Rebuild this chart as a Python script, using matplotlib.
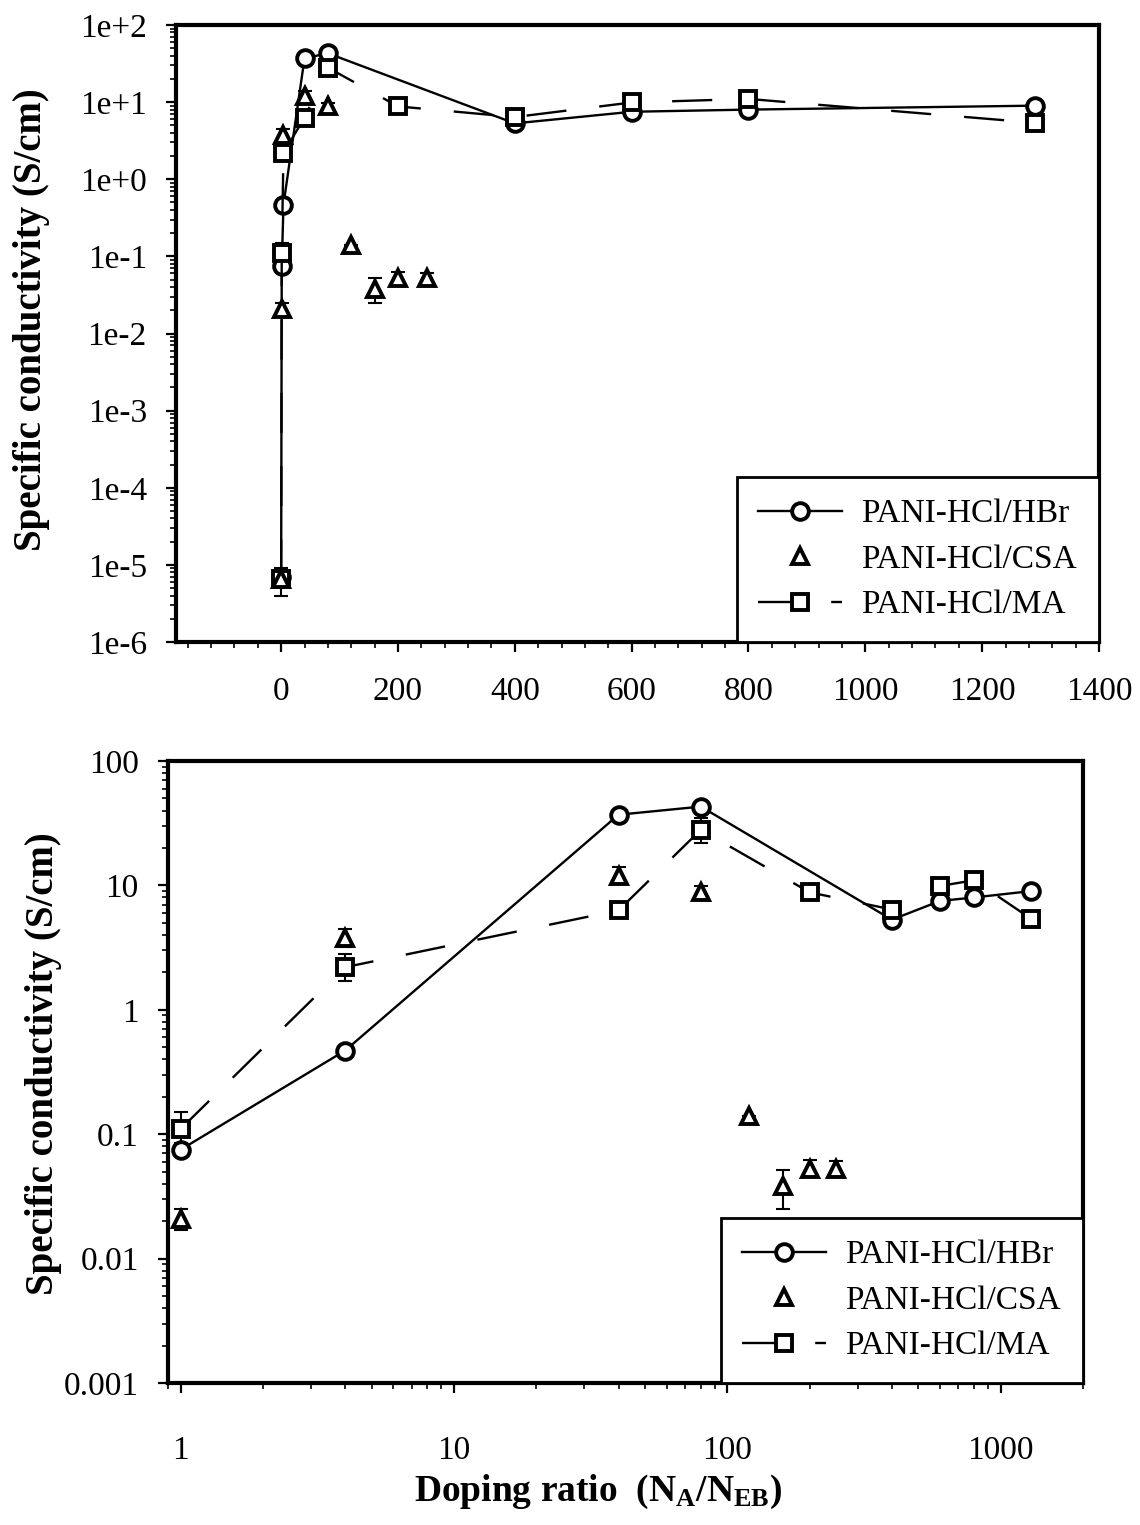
import matplotlib
matplotlib.use("Agg")
import matplotlib.pyplot as plt
from matplotlib.ticker import MultipleLocator, LogLocator, FixedLocator, FixedFormatter, NullFormatter

plt.rcParams['font.family'] = ['Liberation Serif', 'DejaVu Serif']
plt.rcParams['mathtext.fontset'] = 'custom'
plt.rcParams['mathtext.rm'] = 'Liberation Serif'
plt.rcParams['mathtext.bf'] = 'Liberation Serif:bold'
plt.rcParams['mathtext.it'] = 'Liberation Serif:italic'

# ---------------- data ----------------
labels = ['PANI-HCl/HBr', 'PANI-HCl/CSA', 'PANI-HCl/MA']

x_hbr = [0, 1, 4, 40, 80, 400, 600, 800, 1290]
y_hbr = [7e-6, 0.075, 0.47, 37, 43, 5.3, 7.5, 8.0, 9.0]

x_csa = [0, 1, 4, 40, 80, 120, 160, 200, 250]
y_csa = [6.5e-6, 0.021, 3.8, 12, 8.8, 0.14, 0.038, 0.053, 0.053]
err_csa_lo = [0, 0.004, 0.6, 1.5, 1.0, 0, 0.013, 0.008, 0.008]
err_csa_hi = [0, 0.004, 0.7, 2.0, 1.0, 0, 0.014, 0.009, 0.008]

x_ma = [0, 1, 4, 40, 80, 200, 400, 600, 800, 1290]
y_ma = [6.5e-6, 0.11, 2.2, 6.3, 28, 8.8, 6.4, 9.9, 11.0, 5.4]
err_ma_lo = [2.5e-6, 0.025, 0.5, 0, 6, 0, 0, 0, 0, 0]
err_ma_hi = [2.5e-6, 0.04, 0.6, 0, 7, 0, 0, 0, 0, 0]

top_yticks = [1e-6, 1e-5, 1e-4, 1e-3, 1e-2, 1e-1, 1e0, 1e1, 1e2]
top_ytick_labels = ['1e-6', '1e-5', '1e-4', '1e-3', '1e-2', '1e-1', '1e+0', '1e+1', '1e+2']
top_xticks = [0, 200, 400, 600, 800, 1000, 1200, 1400]
top_xtick_labels = ['0', '200', '400', '600', '800', '1000', '1200', '1400']

bot_yticks = [1e-3, 1e-2, 1e-1, 1e0, 1e1, 1e2]
bot_ytick_labels = ['0.001', '0.01', '0.1', '1', '10', '100']
bot_xticks = [1, 10, 100, 1000]
bot_xtick_labels = ['1', '10', '100', '1000']

ylabel = 'Specific conductivity (S/cm)'
xlabel = r'Doping ratio  $\mathbf{(N_A/N_{EB})}$'

# ---------------- figure ----------------
W, H = 1140, 1525
fig = plt.figure(figsize=(W / 100, H / 100), dpi=100)

def px_axes(l, t, r, b):
    return fig.add_axes([l / W, 1 - b / H, (r - l) / W, (b - t) / H])

ax1 = px_axes(176, 25, 1099, 642)
ax2 = px_axes(168, 761, 1083, 1383)

mk = dict(markersize=12, markeredgewidth=2.8, markerfacecolor='white', markeredgecolor='black', color='black')
dash = (0, (17, 14))

def draw(ax, sl, xpad):
    ax.plot(x_hbr[sl], y_hbr[sl], '-', marker='o', lw=1.7, label=labels[0], zorder=3, **mk)
    ax.errorbar(x_csa[sl], y_csa[sl], yerr=[err_csa_lo[sl], err_csa_hi[sl]], fmt='none',
                ecolor='black', elinewidth=1.5, capsize=5, capthick=1.5, zorder=2)
    ax.plot(x_csa[sl], y_csa[sl], linestyle='none', marker='^', label=labels[1], zorder=4,
            **{**mk, 'markersize': 11})
    ax.errorbar(x_ma[sl], y_ma[sl], yerr=[err_ma_lo[sl], err_ma_hi[sl]], fmt='none',
                ecolor='black', elinewidth=1.5, capsize=5, capthick=1.5, zorder=2)
    ax.plot(x_ma[sl], y_ma[sl], linestyle=dash, marker='s', lw=1.7, label=labels[2], zorder=3,
            **{**mk, 'markersize': 11})
    for s in ax.spines.values():
        s.set_linewidth(3)
    ax.tick_params(which='major', direction='out', length=7, width=1.6, labelsize=24)
    ax.tick_params(which='minor', direction='out', length=4, width=1.2)
    ax.tick_params(axis='x', which='major', pad=xpad)
    ax.tick_params(axis='y', which='major', pad=14)
    leg = ax.legend(loc='lower right', borderaxespad=0, fancybox=False, framealpha=1,
                    edgecolor='black', fontsize=24, handlelength=2.5, handletextpad=0.6,
                    borderpad=0.65, labelspacing=0.45)
    leg.get_frame().set_linewidth(2)

# top: linear x, log y
draw(ax1, slice(None), 18)
ax1.set_yscale('log')
ax1.set_ylim(1e-6, 1e2)
ax1.set_xlim(-180, 1400)
ax1.yaxis.set_major_locator(FixedLocator(top_yticks))
ax1.yaxis.set_major_formatter(FixedFormatter(top_ytick_labels))
ax1.yaxis.set_minor_locator(LogLocator(base=10, subs=range(2, 10), numticks=20))
ax1.yaxis.set_minor_formatter(NullFormatter())
ax1.xaxis.set_major_locator(FixedLocator(top_xticks))
ax1.xaxis.set_major_formatter(FixedFormatter(top_xtick_labels))
ax1.xaxis.set_minor_locator(MultipleLocator(40))
ax1.set_ylabel(ylabel, fontsize=28, fontweight='bold')
ax1.yaxis.set_label_coords(-0.137, 0.522)

# bottom: log x, log y (x = 0 cannot be shown)
draw(ax2, slice(1, None), 31)
ax2.set_xscale('log')
ax2.set_yscale('log')
ax2.set_ylim(1e-3, 1e2)
ax2.set_xlim(0.9, 2000)
ax2.yaxis.set_major_locator(FixedLocator(bot_yticks))
ax2.yaxis.set_major_formatter(FixedFormatter(bot_ytick_labels))
ax2.yaxis.set_minor_locator(LogLocator(base=10, subs=range(2, 10), numticks=20))
ax2.yaxis.set_minor_formatter(NullFormatter())
ax2.xaxis.set_major_locator(FixedLocator(bot_xticks))
ax2.xaxis.set_major_formatter(FixedFormatter(bot_xtick_labels))
ax2.xaxis.set_minor_locator(LogLocator(base=10, subs=range(2, 10), numticks=20))
ax2.xaxis.set_minor_formatter(NullFormatter())
ax2.set_ylabel(ylabel, fontsize=28, fontweight='bold')
ax2.yaxis.set_label_coords(-0.116, 0.513)
ax2.set_xlabel(xlabel, fontsize=27, fontweight='bold')
ax2.xaxis.set_label_coords(0.47, -0.145)

fig.savefig('out.png', dpi=100, facecolor='white')
